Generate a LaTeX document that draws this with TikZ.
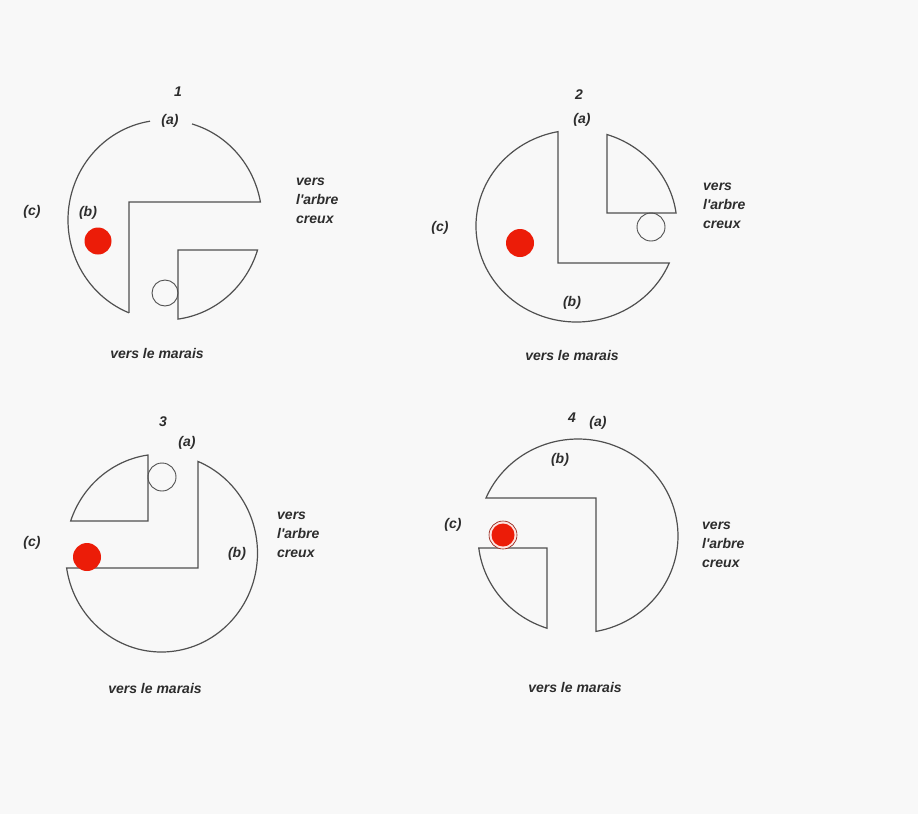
\documentclass[tikz,border=0pt]{standalone}
\usepackage{fontspec}
\setmainfont{Liberation Sans}
\definecolor{paper}{RGB}{248,248,248}
\definecolor{wallink}{RGB}{80,80,80}
\definecolor{textink}{RGB}{45,45,45}
\definecolor{ball}{RGB}{236,28,8}
\newcommand{\apos}{\textquotesingle}
\begin{document}
\begin{tikzpicture}[x=1pt,y=-1pt,
  wall/.style={draw=wallink,line width=1.2pt,line join=miter},
  hole/.style={draw=wallink,line width=0.9pt},
  ball/.style={fill=ball},
  lbl/.style={font=\fontsize{14}{16}\selectfont\bfseries\itshape,text=textink,inner sep=0pt},
  num/.style={font=\fontsize{14}{16}\selectfont\bfseries\itshape,text=textink,inner sep=0pt},
  side/.style={font=\fontsize{14}{19}\selectfont\bfseries\itshape,text=textink,inner sep=0pt,align=left,anchor=west}]
\fill[paper] (0,0) rectangle (918,814);
\useasboundingbox (0,0) rectangle (918,814);

% ---------- plan 1 ----------
\begin{scope}[shift={(165,220)}]
  \draw[wall] (111.8:97 and 100) arc[start angle=111.8,end angle=261.1,x radius=97,y radius=100];
  \draw[wall] (286.2:97 and 100) arc[start angle=286.2,end angle=349.6,x radius=97,y radius=100]
    -- (-36,-18) -- (111.8:97 and 100);
  \draw[wall] (13,30) -- (17.5:97 and 100) arc[start angle=17.5,end angle=82.3,x radius=97,y radius=100] -- cycle;
  \draw[hole] (0,73) circle[radius=13];
  \fill[ball] (-67,21) circle[radius=13.5];
\end{scope}
\node[num] (n1) at (178,92) {1};
\node[lbl] (a1) at (170,121) {(a)};
\node[lbl] (b1) at (88,213) {(b)};
\node[lbl] (c1) at (32,212) {(c)};
\node[side] (t1) at (296,201) {vers\\l\apos arbre\\creux};
\node[lbl] (m1) at (157,353) {vers le marais};

% ---------- plan 2 ----------
\begin{scope}[shift={(576.5,226)}]
  \draw[wall] (-18.5,37) -- (22.7:100.5 and 96) arc[start angle=22.7,end angle=259.4,x radius=100.5,y radius=96] -- cycle;
  \draw[wall] (30.5,-13) -- (287.7:100.5 and 96) arc[start angle=287.7,end angle=352.2,x radius=100.5,y radius=96] -- cycle;
  \draw[hole] (74.5,1) circle[radius=14];
  \fill[ball] (-56.5,17) circle[radius=14];
\end{scope}
\node[num] (n2) at (579,95) {2};
\node[lbl] (a2) at (582,120) {(a)};
\node[lbl] (b2) at (572,303) {(b)};
\node[lbl] (c2) at (440,228) {(c)};
\node[side] (t2) at (703,206) {vers\\l\apos arbre\\creux};
\node[lbl] (m2) at (572,355) {vers le marais};

% ---------- plan 3 ----------
\begin{scope}[shift={(161.5,553)}]
  \draw[wall] (36.5,15) -- (171.3:96 and 99) arc[start angle=171.3,end angle=-67.7,x radius=96,y radius=99] -- cycle;
  \draw[wall] (-13.5,-32) -- (198.9:96 and 99) arc[start angle=198.9,end angle=261.9,x radius=96,y radius=99] -- cycle;
  \draw[hole] (0.5,-76) circle[radius=14];
  \fill[ball] (-74.5,4) circle[radius=14];
\end{scope}
\node[num] (n3) at (163,422) {3};
\node[lbl] (a3) at (187,443) {(a)};
\node[lbl] (b3) at (237,554) {(b)};
\node[lbl] (c3) at (32,543) {(c)};
\node[side] (t3) at (277,535) {vers\\l\apos arbre\\creux};
\node[lbl] (m3) at (155,688) {vers le marais};

% ---------- plan 4 ----------
\begin{scope}[shift={(578,536)}]
  \draw[wall] (18,-38) -- (79.6:100 and 97) arc[start angle=79.6,end angle=-156.9,x radius=100,y radius=97] -- cycle;
  \draw[wall] (-31,12) -- (108.1:100 and 97) arc[start angle=108.1,end angle=172.9,x radius=100,y radius=97] -- cycle;
  \draw[draw=ball!60!black,line width=0.6pt,fill=ball!12] (-75,-1) circle[radius=14];
  \fill[ball] (-75,-1) circle[radius=11.5];
\end{scope}
\node[num] (n4) at (572,418) {4};
\node[lbl] (a4) at (598,423) {(a)};
\node[lbl] (b4) at (560,460) {(b)};
\node[lbl] (c4) at (453,525) {(c)};
\node[side] (t4) at (702,545) {vers\\l\apos arbre\\creux};
\node[lbl] (m4) at (575,687) {vers le marais};
\end{tikzpicture}
\end{document}
